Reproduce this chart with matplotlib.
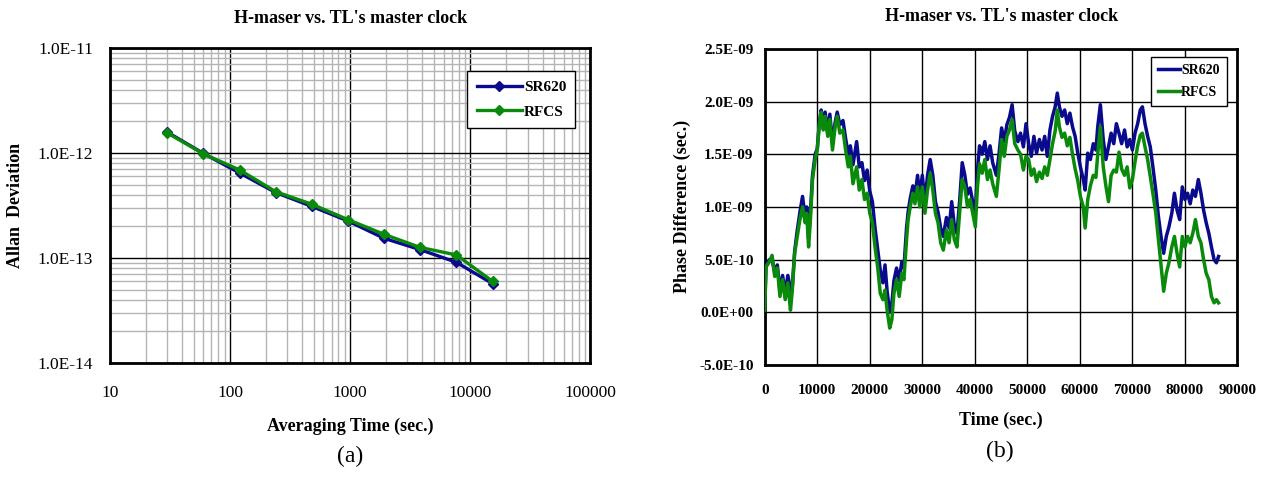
import matplotlib
matplotlib.use("Agg")
import matplotlib.pyplot as plt
from matplotlib.ticker import LogLocator, FixedLocator, NullFormatter

plt.rcParams["font.family"] = ["Liberation Serif", "DejaVu Serif"]

# ---- (a) Allan deviation ----
tau = [30, 60, 120, 240, 480, 960, 1920, 3840, 7680, 15360]
adev_sr620 = [1.58e-12, 0.99e-12, 6.45e-13, 4.2e-13, 3.1e-13, 2.25e-13, 1.54e-13, 1.2e-13, 0.91e-13, 5.7e-14]
adev_rfcs = [1.55e-12, 0.98e-12, 6.9e-13, 4.28e-13, 3.25e-13, 2.32e-13, 1.68e-13, 1.26e-13, 1.07e-13, 6.0e-14]
x_ticks_a = [10, 100, 1000, 10000, 100000]
y_ticks_a = [1e-14, 1e-13, 1e-12, 1e-11]
y_labels_a = ["1.0E-14", "1.0E-13", "1.0E-12", "1.0E-11"]

# ---- (b) phase difference, values in ns ----
t_a = [0, 250, 900, 1400, 1900, 2400, 2900, 3400, 3900, 4400, 4900, 5200, 5700, 6200,
       6700, 7200, 7700, 8000, 8350, 8700, 9100, 9600, 10000, 10400, 10750, 11150, 11500,
       12000, 12400, 12900, 13400, 13800, 14300, 14900, 15400, 15900, 16300, 16800, 17500,
       18000, 18500, 19000, 19500, 20000, 20500, 21000, 21500, 22000, 22500, 22900, 23300,
       23800, 24200, 24600, 25100, 25600, 26100, 26500, 27000, 27300, 27700, 28200, 28600,
       29100, 29500, 30000, 30500, 31000, 31500, 32000, 32500, 33000, 33500, 34000, 34600,
       35100, 35600, 36100, 36600, 37100, 37600, 38100, 38600, 39100, 39600, 40100, 40500,
       40900, 41400, 41900, 42400, 42900, 43400, 44100, 44600, 45100, 45600, 46100, 46600,
       47100, 47600, 48200]
t_b = [48700, 49250, 49750, 50250, 50750, 51250, 51750, 52300, 52800, 53300, 53800, 54300,
       54800, 55300, 55700, 56100, 56600, 57100, 57600, 58100, 58600, 59100, 59600, 60100,
       60650, 61000, 61500, 62000, 62550, 63050, 63400, 63900, 64450, 64950, 65450, 65950,
       66450, 66950, 67450, 67950, 68500, 69000, 69500, 70000, 70500, 71000, 71500, 71900,
       72400, 72900, 73400, 73900, 74450, 74950, 75450, 75950, 76450, 76950, 77500, 78000,
       78500, 79000, 79500, 80000, 80500, 81000, 81500, 82000, 82550, 83050, 83550, 84050,
       84550, 85050, 85550, 86000, 86400]
time_s = t_a + t_b

phase_sr620 = [0.05, 0.45, 0.5, 0.5, 0.38, 0.45, 0.2, 0.35, 0.18, 0.35, 0.22, 0.2, 0.58, 0.78,
               0.95, 1.1, 0.9, 1.0, 0.7, 0.95, 1.3, 1.5, 1.55, 1.8, 1.92, 1.75, 1.9,
               1.7, 1.88, 1.6, 1.8, 1.9, 1.78, 1.82, 1.65, 1.5, 1.58, 1.4, 1.62,
               1.38, 1.42, 1.25, 1.35, 1.15, 1.05, 0.8, 0.6, 0.4, 0.28, 0.45, 0.2,
               0.0, 0.08, 0.3, 0.42, 0.3, 0.48, 0.42, 0.8, 0.95, 1.08, 1.2, 1.1,
               1.3, 1.1, 1.3, 1.05, 1.3, 1.45, 1.3, 1.05, 0.95, 0.8, 0.72, 0.9,
               0.8, 1.05, 0.82, 0.75, 1.05, 1.42, 1.3, 1.12, 1.18, 1.05, 0.95, 1.35,
               1.58, 1.5, 1.62, 1.45, 1.58, 1.42, 1.3, 1.5, 1.75, 1.62, 1.78, 1.85,
               1.97, 1.72, 1.62,
               1.7, 1.57, 1.79, 1.6, 1.48, 1.67, 1.51, 1.64, 1.54, 1.67, 1.48, 1.73,
               1.86, 1.95, 2.08, 1.95, 1.86, 1.92, 1.79, 1.89, 1.76, 1.67, 1.51, 1.38,
               1.26, 1.16, 1.51, 1.45, 1.6, 1.54, 1.76, 1.97, 1.64, 1.45, 1.57, 1.7,
               1.6, 1.79, 1.7, 1.6, 1.73, 1.57, 1.64, 1.54, 1.7, 1.79, 1.92, 1.95,
               1.79, 1.67, 1.57, 1.38, 1.16, 0.91, 0.72, 0.56, 0.72, 0.81, 0.94, 1.13,
               0.97, 0.88, 1.19, 1.07, 1.13, 1.03, 1.16, 1.1, 1.26, 1.13, 0.97, 0.85,
               0.75, 0.62, 0.5, 0.47, 0.53]
phase_rfcs = [0.02, 0.43, 0.48, 0.54, 0.34, 0.42, 0.15, 0.31, 0.12, 0.28, 0.02, 0.18, 0.56, 0.72,
              0.88, 1.0, 0.85, 0.94, 0.62, 0.88, 1.26, 1.45, 1.54, 1.79, 1.9, 1.73, 1.86,
              1.67, 1.83, 1.54, 1.76, 1.86, 1.7, 1.73, 1.54, 1.38, 1.48, 1.22, 1.38,
              1.16, 1.26, 1.07, 1.13, 0.94, 0.85, 0.62, 0.43, 0.18, 0.12, 0.21, 0.02,
              -0.15, -0.07, 0.18, 0.31, 0.15, 0.37, 0.31, 0.69, 0.88, 1.0, 1.13, 1.03,
              1.19, 1.0, 1.19, 0.94, 1.16, 1.32, 1.16, 0.94, 0.85, 0.66, 0.59, 0.78,
              0.66, 0.88, 0.69, 0.62, 0.94, 1.26, 1.19, 1.0, 1.07, 0.94, 0.81, 1.19,
              1.41, 1.32, 1.45, 1.26, 1.35, 1.22, 1.1, 1.35, 1.64, 1.48, 1.67, 1.73,
              1.83, 1.6, 1.54,
              1.5, 1.35, 1.48, 1.45, 1.3, 1.36, 1.24, 1.33, 1.27, 1.38, 1.3, 1.45,
              1.6, 1.72, 1.92, 1.76, 1.66, 1.7, 1.58, 1.66, 1.5, 1.36, 1.25, 1.1,
              1.0, 0.8, 1.07, 1.2, 1.3, 1.28, 1.5, 1.76, 1.38, 1.2, 1.05, 1.3,
              1.35, 1.33, 1.52, 1.36, 1.3, 1.38, 1.18, 1.26, 1.43, 1.58, 1.68, 1.7,
              1.57, 1.45, 1.29, 1.13, 0.94, 0.69, 0.43, 0.2, 0.37, 0.47, 0.62, 0.72,
              0.56, 0.43, 0.72, 0.62, 0.72, 0.66, 0.75, 0.88, 0.72, 0.66, 0.5, 0.37,
              0.31, 0.15, 0.09, 0.12, 0.09]
y_ticks_b = [-0.5, 0.0, 0.5, 1.0, 1.5, 2.0, 2.5]
y_labels_b = ["-5.0E-10", "0.0E+00", "5.0E-10", "1.0E-09", "1.5E-09", "2.0E-09", "2.5E-09"]
x_ticks_b = list(range(0, 90001, 10000))

BLUE = "#0a0a8c"
GREEN = "#0a8a0a"
TITLE = "H-maser vs. TL's master clock"

fig = plt.figure(figsize=(12.64, 4.79), dpi=100)

# ---------------- left panel ----------------
ax1 = fig.add_axes([0.087, 0.242, 0.380, 0.658])
ax1.set_xscale("log")
ax1.set_yscale("log")
ax1.set_xlim(10, 100000)
ax1.set_ylim(1e-14, 1e-11)
ax1.plot(tau, adev_sr620, color=BLUE, lw=2.4, marker="D", ms=5.5, label="SR620", zorder=3)
ax1.plot(tau, adev_rfcs, color=GREEN, lw=2.4, marker="D", ms=5.5, label="RFCS", zorder=4)
ax1.xaxis.set_major_locator(FixedLocator(x_ticks_a))
ax1.yaxis.set_major_locator(FixedLocator(y_ticks_a))
ax1.xaxis.set_minor_locator(LogLocator(base=10, subs=range(2, 10), numticks=20))
ax1.yaxis.set_minor_locator(LogLocator(base=10, subs=range(2, 10), numticks=20))
ax1.xaxis.set_minor_formatter(NullFormatter())
ax1.yaxis.set_minor_formatter(NullFormatter())
ax1.set_xticklabels([str(v) for v in x_ticks_a])
ax1.set_yticklabels(y_labels_a)
ax1.grid(which="minor", color="#b4b4b4", lw=1.0)
ax1.grid(which="major", color="black", lw=1.0)
ax1.set_axisbelow(True)
ax1.tick_params(which="both", length=0, labelsize=12.5, pad=12)
ax1.tick_params(axis="x", pad=16)
for s in ax1.spines.values():
    s.set_linewidth(2)
ax1.set_title(TITLE, fontsize=13, fontweight="bold", pad=18)
ax1.set_xlabel("Averaging Time (sec.)", fontsize=13, fontweight="bold", labelpad=12)
ax1.set_ylabel("Allan  Deviation", fontsize=13, fontweight="bold", labelpad=10)
leg1 = ax1.legend(loc="upper right", bbox_to_anchor=(0.985, 0.95), fancybox=False,
                  edgecolor="black", framealpha=1, prop={"weight": "bold", "size": 11},
                  handlelength=3.0, borderpad=0.6, labelspacing=0.7, handletextpad=0.1)
leg1.get_frame().set_linewidth(1.0)
fig.text(0.277, 0.035, "(a)", ha="center", fontsize=17)

# ---------------- right panel ----------------
ax2 = fig.add_axes([0.605, 0.238, 0.374, 0.660])
ax2.plot(time_s, phase_sr620, color=BLUE, lw=2.5, label="SR620", zorder=3)
ax2.plot(time_s, phase_rfcs, color=GREEN, lw=2.5, label="RFCS", zorder=4)
ax2.set_xlim(0, 90000)
ax2.set_ylim(-0.5, 2.5)
ax2.set_xticks(x_ticks_b)
ax2.set_yticks(y_ticks_b)
ax2.set_yticklabels(y_labels_b)
ax2.grid(color="black", lw=1.0)
ax2.set_axisbelow(True)
ax2.tick_params(length=0, labelsize=11)
ax2.tick_params(axis="x", pad=14)
ax2.tick_params(axis="y", pad=8)
for lab in ax2.get_xticklabels() + ax2.get_yticklabels():
    lab.set_fontweight("bold")
for s in ax2.spines.values():
    s.set_linewidth(2)
ax2.set_title(TITLE, fontsize=13, fontweight="bold", pad=20)
ax2.set_xlabel("Time (sec.)", fontsize=13, fontweight="bold", labelpad=10)
ax2.set_ylabel("Phase Difference (sec.)", fontsize=13, fontweight="bold", labelpad=6)
leg2 = ax2.legend(loc="upper right", bbox_to_anchor=(0.992, 0.995), fancybox=False,
                  edgecolor="black", framealpha=1, prop={"weight": "bold", "size": 10},
                  handlelength=1.6, borderpad=0.5, labelspacing=0.6, handletextpad=0.1)
leg2.get_frame().set_linewidth(1.0)
fig.text(0.791, 0.045, "(b)", ha="center", fontsize=17)

fig.savefig("out.png", dpi=100)
